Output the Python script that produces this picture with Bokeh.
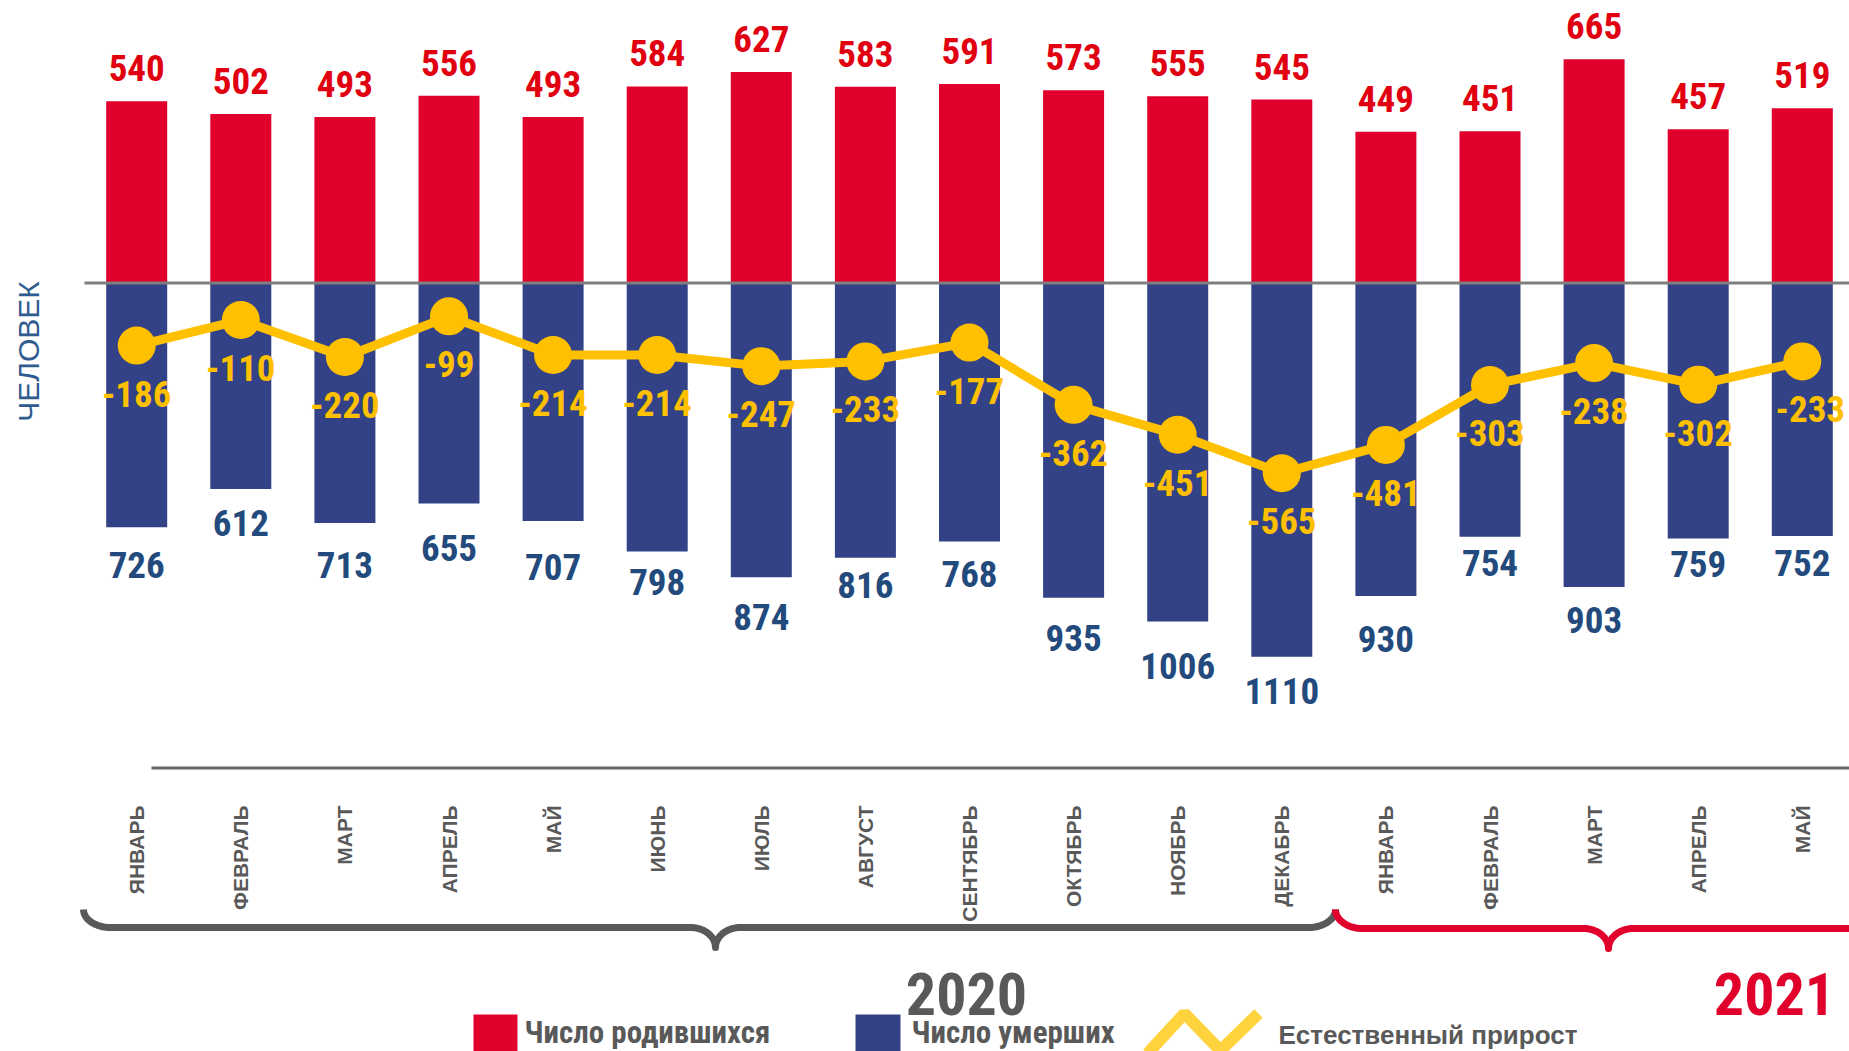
import numpy as np
from bokeh.plotting import figure
from bokeh.models import Range1d, ColumnDataSource
from bokeh.core.properties import value
from bokeh.embed import file_html
from bokeh.resources import INLINE

# ---------------- data ----------------
months = ["ЯНВАРЬ", "ФЕВРАЛЬ", "МАРТ", "АПРЕЛЬ", "МАЙ", "ИЮНЬ", "ИЮЛЬ", "АВГУСТ",
          "СЕНТЯБРЬ", "ОКТЯБРЬ", "НОЯБРЬ", "ДЕКАБРЬ",
          "ЯНВАРЬ", "ФЕВРАЛЬ", "МАРТ", "АПРЕЛЬ", "МАЙ"]
births = [540, 502, 493, 556, 493, 584, 627, 583, 591, 573, 555, 545,
          449, 451, 665, 457, 519]
deaths = [726, 612, 713, 655, 707, 798, 874, 816, 768, 935, 1006, 1110,
          930, 754, 903, 759, 752]
growth = [-186, -110, -220, -99, -214, -214, -247, -233, -177, -362, -451, -565,
          -481, -303, -238, -302, -233]
years = ["2020", "2021"]
legend_labels = ["Число родившихся", "Число умерших", "Естественный прирост"]
y_title = "ЧЕЛОВЕК"

# label nudges (screen px), kept separate from data
deaths_label_dy = [38, 34, 42, 45, 46, 30, 40, 27, 32, 40, 44, 34, 43, 26, 33, 26, 27]
growth_label_dx = [0] * 16 + [8]

# ---------------- geometry ----------------
W, H = 1849, 1051
X0, DX = 136.2, 104.1        # px of first bar centre, px per category
Y0, K = 282.5, 0.3366         # px of zero line, px per person

def fx(px):
    return (px - X0) / DX

def fy(py):
    return (Y0 - py) / K

RED = "#E0002B"
RED_TXT = "#E00010"
BLUE = "#334286"
BLUE_TXT = "#234A7C"
YEL = "#FFC000"
GRAY = "#595959"

NARROW = value("'Liberation Sans Narrow', 'Arial Narrow', 'Roboto Condensed', sans-serif")
SANS = value("'Liberation Sans', Arial, sans-serif")

p = figure(width=W, height=H, output_backend="svg", toolbar_location=None,
           x_range=Range1d(fx(0), fx(W)), y_range=Range1d(fy(H), fy(0)),
           min_border=0, outline_line_color=None, background_fill_color="white",
           border_fill_color="white")
p.axis.visible = False
p.grid.visible = False

idx = list(range(len(months)))
src = ColumnDataSource(dict(
    x=idx, births=births, neg_deaths=[-d for d in deaths], growth=growth,
    births_txt=[str(v) for v in births], deaths_txt=[str(v) for v in deaths],
    growth_txt=[str(v) for v in growth], months=months,
    ddy=deaths_label_dy, gdx=growth_label_dx,
))

bw = 61 / DX
p.vbar(x="x", top="births", bottom=0, width=bw, fill_color=RED, line_color=None, source=src)
p.vbar(x="x", top=0, bottom="neg_deaths", width=bw, fill_color=BLUE, line_color=None, source=src)

# zero line
p.segment(x0=fx(84), y0=0, x1=fx(W + 5), y1=0, line_color="#7F7F7F", line_width=3)

# growth line
p.line(x="x", y="growth", line_color=YEL, line_width=9, source=src)
p.scatter(x="x", y="growth", size=38, fill_color=YEL, line_color=None, source=src)

# value labels
p.text(x="x", y="births", text="births_txt", y_offset=-33, text_align="center",
       text_baseline="middle", text_font=NARROW, text_font_style="bold",
       text_font_size="37px", text_color=RED_TXT, source=src)
p.text(x="x", y="neg_deaths", text="deaths_txt", y_offset="ddy", text_align="center",
       text_baseline="middle", text_font=NARROW, text_font_style="bold",
       text_font_size="37px", text_color=BLUE_TXT, source=src)
p.text(x="x", y="growth", text="growth_txt", y_offset=48, x_offset="gdx", text_align="center",
       text_baseline="middle", text_font=NARROW, text_font_style="bold",
       text_font_size="37px", text_color=YEL, source=src)

# category axis line and month labels
p.segment(x0=fx(151), y0=fy(767.6), x1=fx(W + 5), y1=fy(767.6), line_color="#666666", line_width=3)
p.text(x="x", y=fy(805), text="months", angle=np.pi / 2, text_align="right",
       text_baseline="middle", text_font=SANS, text_font_style="bold",
       text_font_size="21px", text_color=GRAY, source=src)

# y title
p.text(x=[fx(28)], y=[fy(351)], text=[y_title], angle=np.pi / 2, text_align="center",
       text_baseline="middle", text_font=SANS, text_font_size="30px", text_color="#2F5B8F")

# braces
def hook_down_right(x0, ytop, rx, ry, n=20):
    t = np.linspace(0, np.pi / 2, n)
    return x0 + rx * (1 - np.cos(t)), ytop + ry * np.sin(t)

def to_cusp(xc, yh, rx, ry, n=20):
    t = np.linspace(0, np.pi / 2, n)
    return xc - rx + rx * np.sin(t), yh + ry * (1 - np.cos(t))

def brace(xl, xc, xr, ytop, yh, ycusp, right_open=False):
    xs, ys = [], []
    a, b = hook_down_right(xl, ytop, 27, yh - ytop)
    xs += list(a); ys += list(b)
    a, b = to_cusp(xc, yh, 25, ycusp - yh)
    xs += list(a); ys += list(b)
    a, b = to_cusp(xc, yh, 25, ycusp - yh)
    xs += list(2 * xc - a[::-1]); ys += list(b[::-1])
    if right_open:
        xs += [W + 10]; ys += [yh]
    else:
        a, b = hook_down_right(xl, ytop, 27, yh - ytop)
        xs += list(xr - (a[::-1] - xl)); ys += list(b[::-1])
    return [fx(v) for v in xs], [fy(v) for v in ys]

bx, by = brace(83, 715, 1335, 909, 927, 947)
p.line(bx, by, line_color=GRAY, line_width=7, line_join="round")
rx_, ry_ = brace(1335, 1608, None, 909, 928, 948, right_open=True)
p.line(rx_, ry_, line_color=RED, line_width=7, line_join="round")

# year labels
p.text(x=[fx(966), fx(1774)], y=[fy(993), fy(993)], text=years, text_align="center",
       text_baseline="middle", text_font=NARROW, text_font_style="bold",
       text_font_size="60px", text_color=[GRAY, RED])

# legend
p.quad(left=[fx(473), fx(855)], right=[fx(517), fx(900)], top=[fy(1014), fy(1014)],
       bottom=[fy(1070), fy(1070)], fill_color=[RED, BLUE], line_color=None)
p.line([fx(1147), fx(1184), fx(1220), fx(1258)], [fy(1053), fy(1013), fy(1050), fy(1013)],
       line_color="#FFD33D", line_width=12)
p.text(x=[fx(524), fx(911)], y=[fy(1032), fy(1032)], text=legend_labels[:2],
       text_align="left", text_baseline="middle", text_font=NARROW,
       text_font_style="bold", text_font_size="31px", text_color=GRAY)
p.text(x=[fx(1278)], y=[fy(1034)], text=legend_labels[2:], text_align="left",
       text_baseline="middle", text_font=SANS, text_font_style="bold",
       text_font_size="26px", text_color=GRAY)

open("out.html", "w").write(file_html(p, INLINE))
